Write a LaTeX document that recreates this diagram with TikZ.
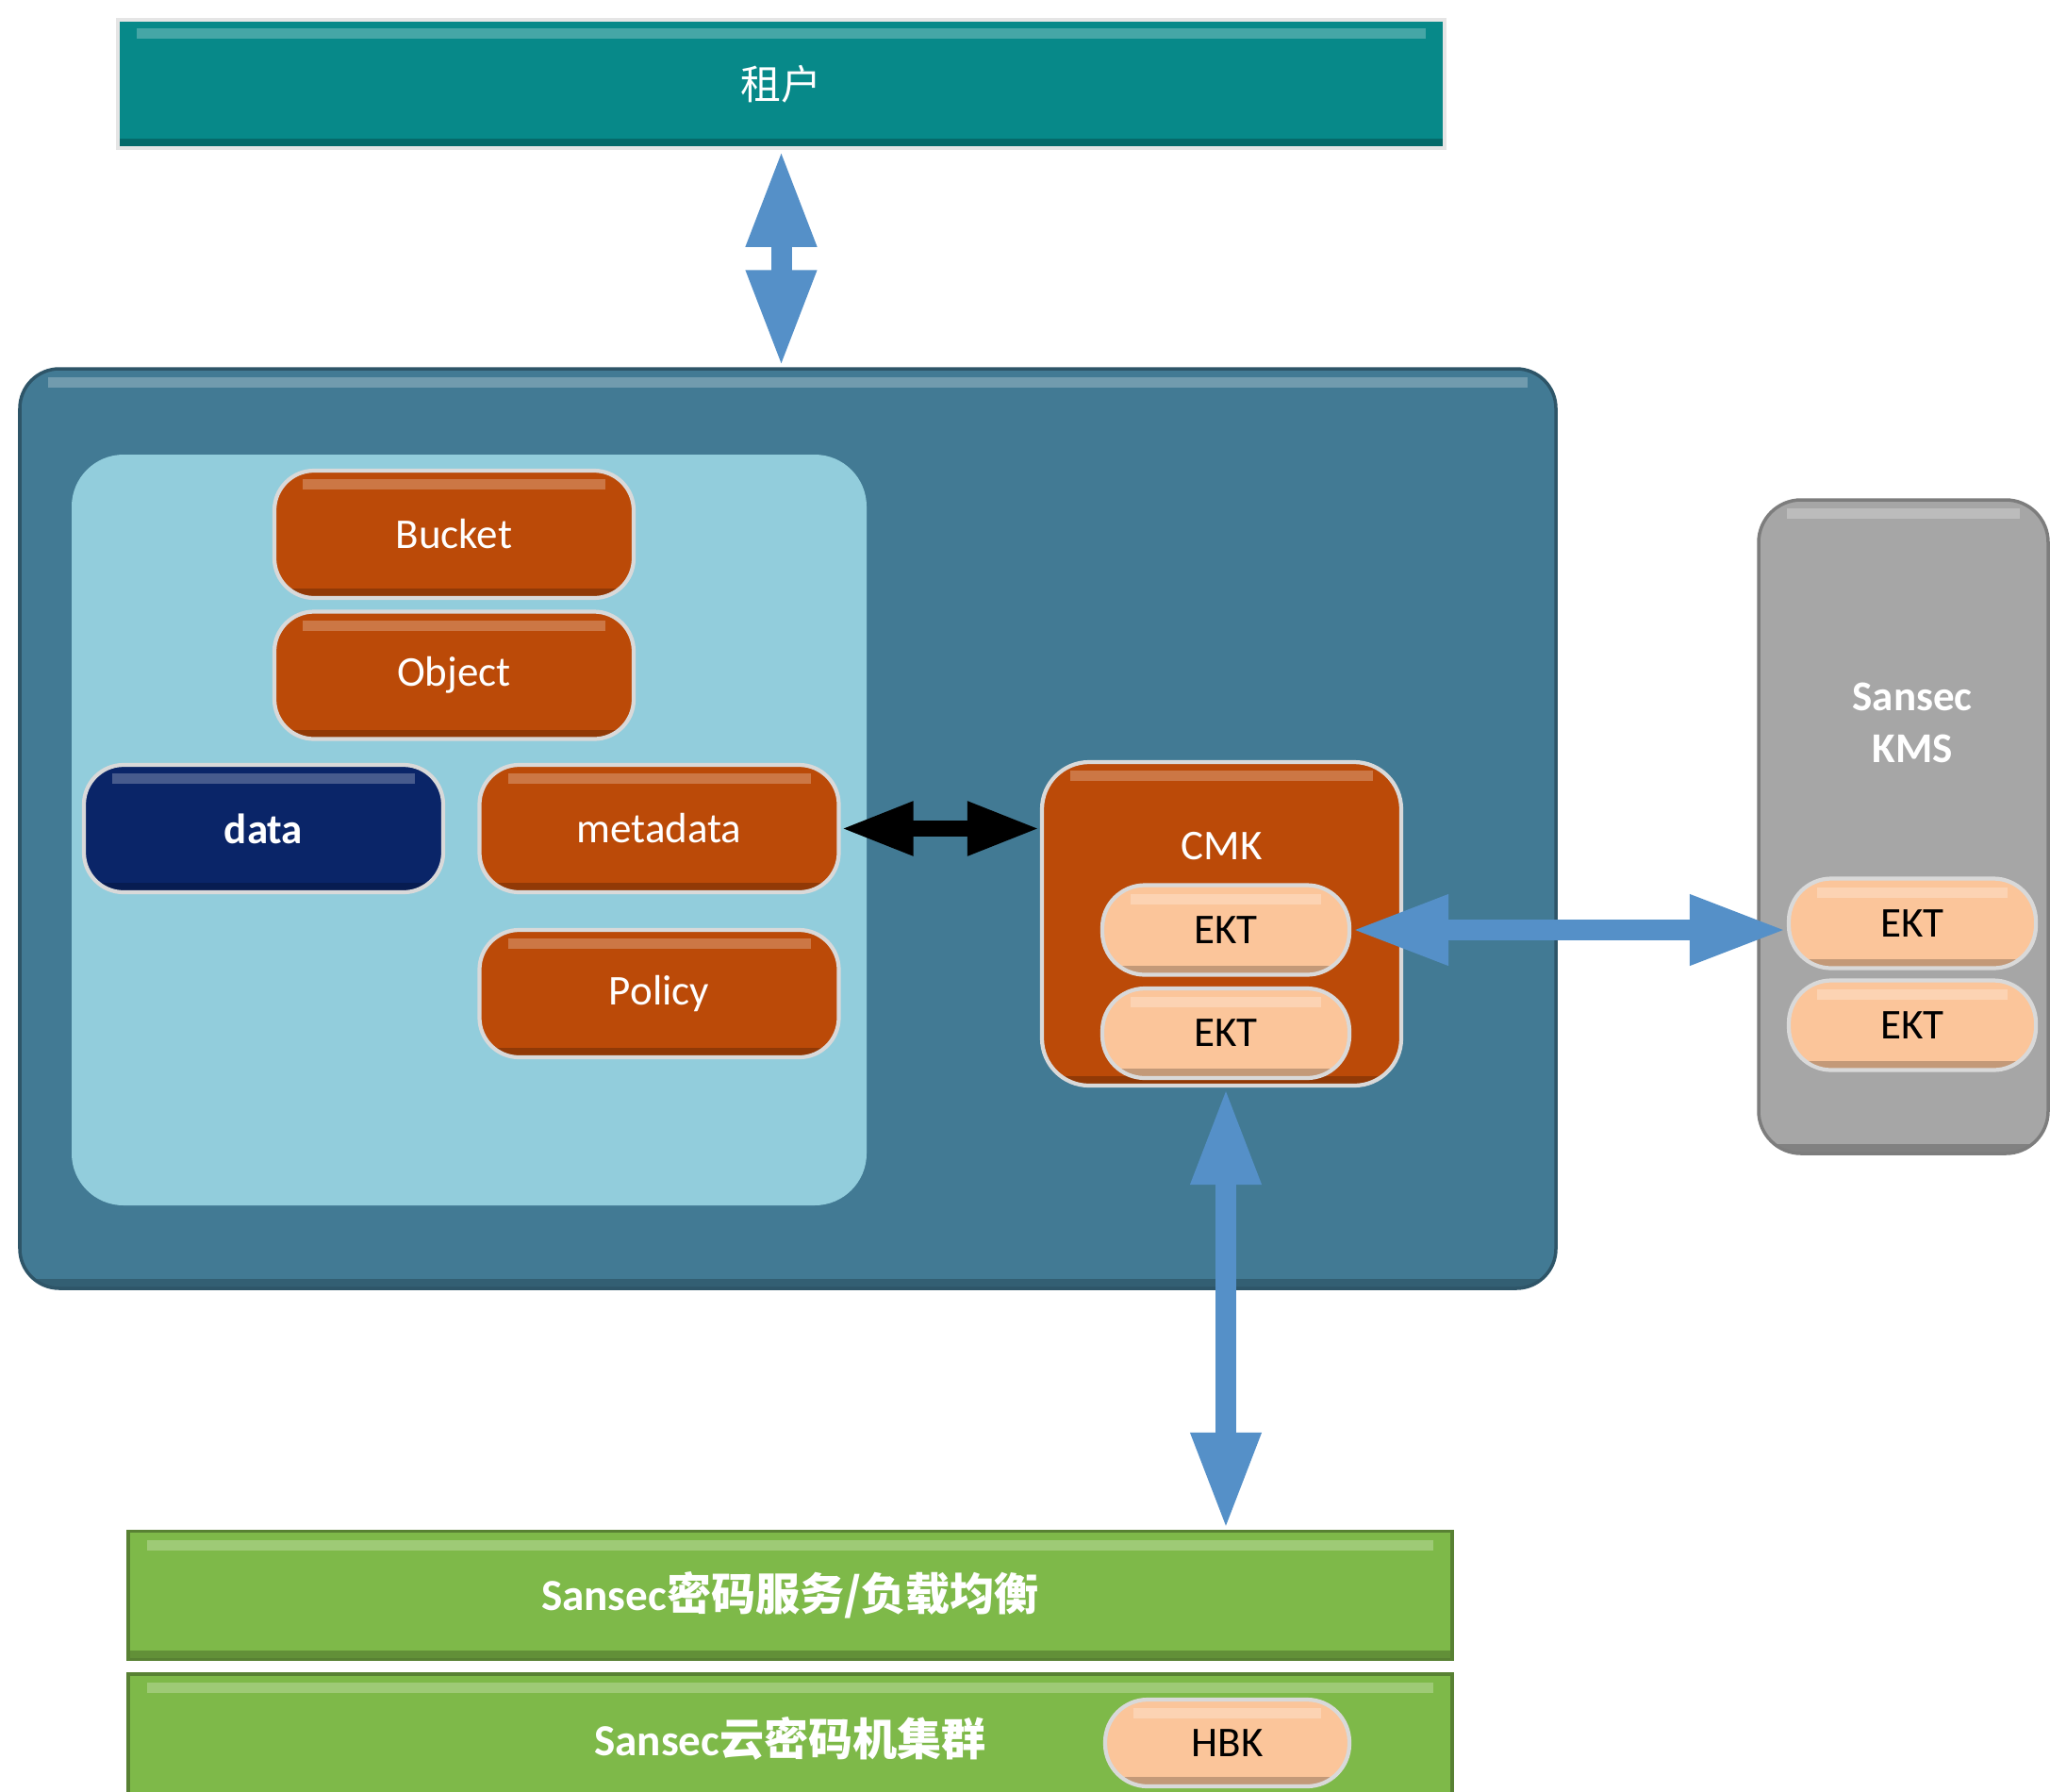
\documentclass[tikz,border=0pt]{standalone}
\usepackage{fontspec}
\setmainfont{Carlito}
\newfontfamily\cjk{Noto Sans CJK SC}
\usetikzlibrary{arrows.meta}

\definecolor{tenantteal}{RGB}{7,137,137}
\definecolor{platblue}{RGB}{66,122,148}
\definecolor{innerblue}{RGB}{146,205,220}
\definecolor{keyorange}{RGB}{187,74,8}
\definecolor{datanavy}{RGB}{10,37,104}
\definecolor{ektpeach}{RGB}{251,197,154}
\definecolor{kmsgray}{RGB}{166,166,166}
\definecolor{hsmgreen}{RGB}{126,185,73}
\definecolor{linkblue}{RGB}{85,144,200}

\tikzset{
    txt/.style={font=\fontsize{12.8}{15.6}\selectfont},
    gloss/.style={path picture={
        \fill[sharp corners,white,opacity=0.25] ([xshift=#1,yshift=-0.09cm]path picture bounding box.north west)
            rectangle ([xshift=-#1,yshift=-0.2cm]path picture bounding box.north east);
        \fill[sharp corners,black,opacity=0.22] ([yshift=0.1cm]path picture bounding box.south west)
            rectangle (path picture bounding box.south east);}},
    gloss/.default=0.2cm,
    bar/.style={rectangle,draw=white!90!black,line width=1pt,inner sep=0pt,gloss,text=white},
    pill/.style={rectangle,rounded corners=0.42cm,draw=white!85!black,line width=1.2pt,fill=keyorange,
        minimum width=3.81cm,minimum height=1.35cm,inner sep=0pt,gloss=0.3cm,txt,text=white},
    ekt/.style={pill,fill=ektpeach,text=black,minimum width=2.62cm,minimum height=0.95cm,rounded corners=0.45cm},
    link/.style={draw=linkblue,line width=0.22cm,
        {Triangle[width=0.69cm,length=1.03cm]}-{Triangle[width=0.69cm,length=1.03cm]}},
    sync/.style={draw=black,line width=0.17cm,
        {Triangle[width=0.53cm,length=0.77cm]}-{Triangle[width=0.53cm,length=0.77cm]}},
}

\begin{document}
\begin{tikzpicture}
    \useasboundingbox (0,0) rectangle (21.74,-18.99);
    % big boxes
    \node[bar,fill=tenantteal,minimum width=14.07cm,minimum height=1.36cm,
        font=\fontsize{12.2}{14}\selectfont] (tenant) at (8.285,-0.89) {\cjk 租户};
    \node[bar,rounded corners=0.42cm,gloss=0.3cm,fill=platblue,draw=platblue!70!black,
        minimum width=16.29cm,minimum height=9.75cm] (platform) at (8.355,-8.785) {};
    \node[rectangle,rounded corners=0.55cm,fill=innerblue,inner sep=0pt,
        minimum width=8.43cm,minimum height=7.96cm] (store) at (4.975,-8.80) {};
    \node[bar,rounded corners=0.45cm,gloss=0.3cm,fill=kmsgray,draw=kmsgray!75!black,
        minimum width=3.07cm,minimum height=6.93cm] (kms) at (20.185,-8.765) {};
    \begin{scope}[every node/.style={bar,fill=hsmgreen,draw=hsmgreen!70!black,minimum width=14.04cm,
        minimum height=1.36cm,font=\fontsize{13.4}{16}\selectfont\bfseries}]
        \node (svc) at (8.38,-16.915) {Sansec{\cjk 密码服务/负载均衡}};
        \node (hsm) at (8.38,-18.43) {Sansec{\cjk 云密码机集群}};
    \end{scope}
    % keys
    \begin{scope}[every node/.style={pill}]
        \node (bucket) at (4.815,-5.665) {Bucket};
        \node (object) at (4.815,-7.16) {Object};
        \node[fill=datanavy,font=\fontsize{12.8}{15.6}\selectfont\bfseries] (data) at (2.795,-8.785) {data};
        \node (metadata) at (6.99,-8.785) {metadata};
        \node (policy) at (6.99,-10.535) {Policy};
        \node[rounded corners=0.5cm,minimum height=3.43cm] (cmk) at (12.955,-9.795) {};
    \end{scope}
    \node[txt,text=white] (cmklabel) at (12.955,-8.97) {CMK};
    \node[txt,text=white,align=center,font=\fontsize{12.8}{15.6}\selectfont\bfseries] (kmslabel) at (20.28,-7.66) {Sansec\\KMS};
    \begin{scope}[every node/.style={ekt}]
        \node (cekt1) at (13.0,-9.86) {EKT};
        \node (cekt2) at (13.0,-10.955) {EKT};
        \node (kekt1) at (20.28,-9.79) {EKT};
        \node (kekt2) at (20.28,-10.87) {EKT};
        \node[minimum width=2.59cm,minimum height=0.92cm] (hbk) at (13.015,-18.48) {HBK};
    \end{scope}
    % arrows
    \path
        (tenant.south) edge[link] (tenant.south |- platform.north)
        (metadata.east) edge[sync] (metadata.east -| cmk.west)
        (cekt1.east) edge[link] (cekt1.east -| kekt1.west)
        (cekt2.south |- cmk.south) edge[link] (cekt2.south |- svc.north);
\end{tikzpicture}
\end{document}
